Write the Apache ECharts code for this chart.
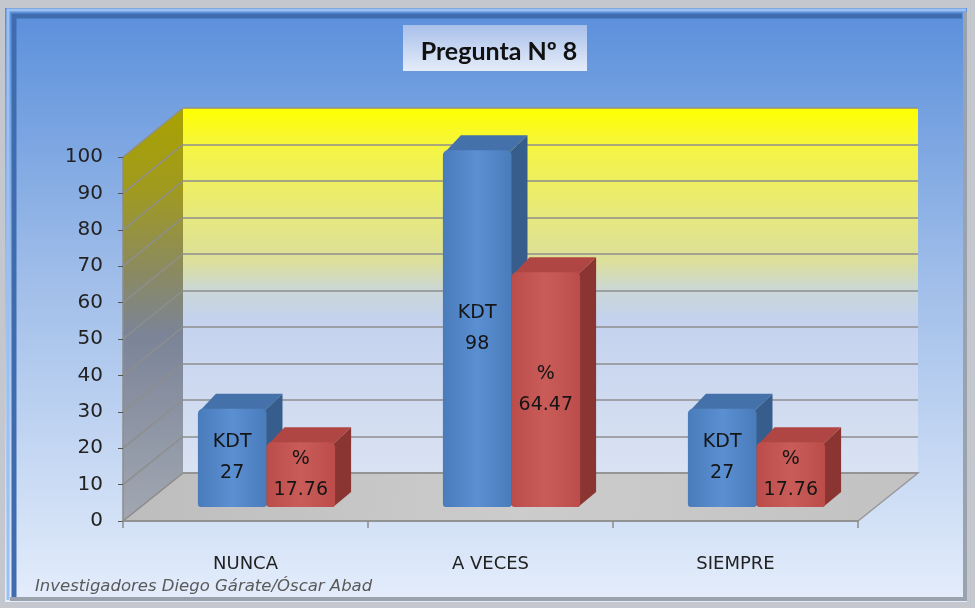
<!DOCTYPE html>
<html>
<head>
<meta charset="utf-8">
<script src="https://cdn.jsdelivr.net/npm/echarts@6/dist/echarts.min.js"></script>
<style>
  html, body { margin: 0; padding: 0; background: #c4c8ce; }
  #chart { width: 975px; height: 608px; }
</style>
</head>
<body>
<div id="chart"></div>
<script>
// datos del gráfico
const categories = ['NUNCA', 'A VECES', 'SIEMPRE'];
const kdtValues = [27, 98, 27];
const pctValues = [17.76, 64.47, 17.76];
const yMin = 0, yMax = 100, yStep = 10;

const FONT = '"DejaVu Sans", sans-serif';
const TITLE_FONT = 'Lato, "Open Sans", sans-serif';

// caja frontal, pared del fondo y plano de las barras
const front = { x0: 123, x1: 858, y0: 157, y1: 521 };
const back = { x0: 183, x1: 918, y0: 108, y1: 473 };
const barBox = { x0: 144, x1: 879, y0: 143, y1: 507 };

const gridOf = b => ({ left: b.x0, top: b.y0, width: b.x1 - b.x0, height: b.y1 - b.y0 });

const blue = { side: '#375d8d', top: '#4471aa', front: ['#4a7cbb', '#5a8fd2', '#4a7cbb'] };
const red = { side: '#8a3532', top: '#b04643', front: ['#bb4c49', '#c95c59', '#bb4c49'] };

function barRenderer(sign, prefix, pal) {
  return function (params, api) {
    const i = api.value(0), v = api.value(1);
    const p0 = api.coord([i, 0]);
    const p1 = api.coord([i, v]);
    const bw = api.size([1, 0])[0] * 0.28;
    const xL = sign < 0 ? p0[0] - bw : p0[0];
    const xR = xL + bw;
    const yT = p1[1], yB = p0[1];
    const dx = 16, dy = -15;
    return {
      type: 'group',
      children: [
        { type: 'polygon', shape: { points: [[xR - 2, yB], [xR - 2, yT + 2], [xR + dx, yT + dy], [xR + dx, yB + dy]] },
          style: { fill: pal.side } },
        { type: 'polygon', shape: { points: [[xL + 2, yT + 2], [xR - 2, yT + 2], [xR + dx, yT + dy], [xL + dx + 2, yT + dy]] },
          style: { fill: pal.top } },
        { type: 'rect', shape: { x: xL, y: yT, width: bw, height: yB - yT, r: [5, 5, 3, 3] },
          style: { fill: new echarts.graphic.LinearGradient(0, 0, 1, 0, [
            { offset: 0, color: pal.front[0] }, { offset: 0.5, color: pal.front[1] }, { offset: 1, color: pal.front[2] }]) } },
        { type: 'text', style: { text: prefix + '\n' + String(v), x: (xL + xR) / 2, y: (yT + yB) / 2,
          align: 'center', verticalAlign: 'middle', fontSize: 19, lineHeight: 31, fill: '#151515', fontFamily: FONT } }
      ]
    };
  };
}

const chart = echarts.init(document.getElementById('chart'));

const option = {
  backgroundColor: '#c4c8ce',
  animation: false,
  title: {
    text: 'Pregunta Nº 8',
    left: 494, top: 34, textAlign: 'center',
    textStyle: { fontFamily: TITLE_FONT, fontWeight: 'bold', fontSize: 25, color: '#111' }
  },
  grid: [gridOf(front), gridOf(back), gridOf(barBox)],
  xAxis: [
    { gridIndex: 0, type: 'category', data: categories,
      axisLine: { lineStyle: { color: '#8c8c8c', width: 1.5 } },
      axisTick: { show: true, length: 7, interval: 0, lineStyle: { color: '#8c8c8c', width: 1.5 } },
      axisLabel: { margin: 34, fontSize: 18, color: '#222', fontFamily: FONT } },
    { gridIndex: 1, type: 'category', data: categories, show: false },
    { gridIndex: 2, type: 'category', data: categories, show: false }
  ],
  yAxis: [
    { gridIndex: 0, type: 'value', min: yMin, max: yMax, interval: yStep,
      axisLine: { show: true, lineStyle: { color: '#8c8c8c', width: 1.5 } },
      axisTick: { show: true, length: 5, lineStyle: { color: '#555' } },
      splitLine: { show: false },
      axisLabel: { margin: 20, fontSize: 20, color: '#222', fontFamily: FONT } },
    { gridIndex: 1, type: 'value', min: yMin, max: yMax, interval: yStep,
      axisLine: { show: false }, axisTick: { show: false }, axisLabel: { show: false },
      splitLine: { show: true, lineStyle: { color: '#8e8e8e', width: 1.6 } } },
    { gridIndex: 2, type: 'value', min: yMin, max: yMax, show: false, splitLine: { show: false } }
  ],
  series: [
    { type: 'custom', name: 'KDT', xAxisIndex: 2, yAxisIndex: 2,
      renderItem: barRenderer(-1, 'KDT', blue), data: kdtValues.map((v, i) => [i, v]), z: 5 },
    { type: 'custom', name: '%', xAxisIndex: 2, yAxisIndex: 2,
      renderItem: barRenderer(1, '%', red), data: pctValues.map((v, i) => [i, v]), z: 6 }
  ]
};

chart.setOption(option);

// paredes, suelo y marco
const ticks = [];
for (let v = yMin; v <= yMax; v += yStep) ticks.push(v);
const sideLines = ticks.map(v => ({
  type: 'line', z: -8,
  shape: { x1: front.x0, y1: chart.convertToPixel({ yAxisIndex: 0 }, v),
           x2: back.x0, y2: chart.convertToPixel({ yAxisIndex: 1 }, v) },
  style: { stroke: '#8e8e8e', lineWidth: 1.5 }
}));

const graphics = [
  { type: 'rect', z: -20, shape: { x: 5, y: 8, width: 962, height: 594 },
    style: { fill: new echarts.graphic.LinearGradient(0, 0, 0, 1, [
      { offset: 0, color: '#5a8fdb' }, { offset: 0.45, color: '#9fbde9' }, { offset: 1, color: '#e4edfb' }]) } },
  { type: 'polyline', z: -19, shape: { points: [[8, 600], [8, 10], [966, 10]] }, style: { stroke: '#9cc0f0', lineWidth: 3, fill: null } },
  { type: 'polyline', z: -19, shape: { points: [[14, 598], [14, 16], [962, 16]] }, style: { stroke: '#3f6cae', lineWidth: 5, fill: null } },
  { type: 'polyline', z: -19, shape: { points: [[10, 599], [965, 599], [965, 12]] }, style: { stroke: '#9aa2ae', lineWidth: 4, fill: null } },
  { type: 'rect', z: -12, shape: { x: 403, y: 25, width: 184, height: 46 },
    style: { fill: new echarts.graphic.LinearGradient(0, 0, 0, 1, [
      { offset: 0, color: '#a9c0ea' }, { offset: 1, color: '#e4ecf9' }]) } },
  { type: 'rect', z: -10, shape: { x: back.x0, y: back.y0, width: back.x1 - back.x0, height: back.y1 - back.y0 },
    style: { fill: new echarts.graphic.LinearGradient(0, 0, 0, 1, [
      { offset: 0, color: '#ffff00' }, { offset: 0.12, color: '#f4f448' }, { offset: 0.3, color: '#e6e87e' },
      { offset: 0.42, color: '#dcdf9a' }, { offset: 0.5, color: '#cbd7d8' }, { offset: 0.58, color: '#c4d2ee' },
      { offset: 1, color: '#dae3f3' }]) } },
  { type: 'polygon', z: -10,
    shape: { points: [[front.x0, front.y0], [back.x0, back.y0], [back.x0, back.y1], [front.x0, front.y1]] },
    style: { fill: new echarts.graphic.LinearGradient(0, 0, 0, 1, [
      { offset: 0, color: '#a9a200' }, { offset: 0.2, color: '#a09a20' }, { offset: 0.4, color: '#8a8a62' },
      { offset: 0.55, color: '#7b8498' }, { offset: 1, color: '#a2a8b2' }]) } },
  { type: 'polygon', z: -9,
    shape: { points: [[front.x0, front.y1], [back.x0, back.y1], [back.x1, back.y1], [front.x1, front.y1]] },
    style: { fill: new echarts.graphic.LinearGradient(0, 0, 1, 1, [
      { offset: 0, color: '#bdbdbd' }, { offset: 0.5, color: '#cccccc' }, { offset: 1, color: '#c2c2c2' }]),
      stroke: '#9a9a9a', lineWidth: 1.5 } },
  { type: 'text', z: 10, left: 35, top: 578,
    style: { text: 'Investigadores Diego Gárate/Óscar Abad', fontSize: 16.5, fontStyle: 'italic',
             fill: '#5a5a5a', fontFamily: FONT } }
].concat(sideLines);

chart.setOption({ graphic: graphics });
</script>
</body>
</html>
